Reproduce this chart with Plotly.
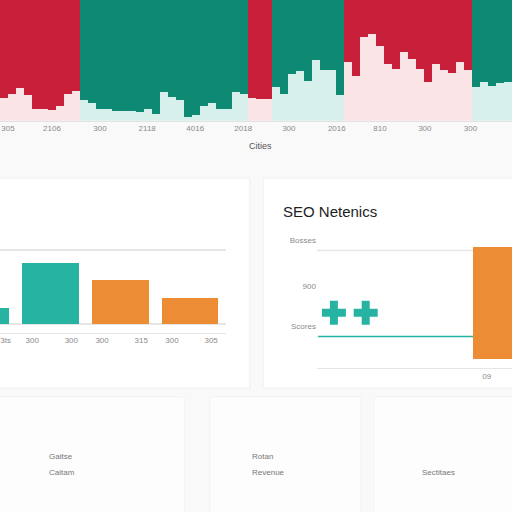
import plotly.graph_objects as go

# top strip: share of the light (lower) part per bar, in percent
top_light = [19, 22, 27, 21, 10, 10, 9, 12, 22, 25,
             17, 15, 10, 10, 8, 8, 8, 7, 10, 6,
             24, 20, 17, 3, 5, 12, 15, 10, 10, 24, 22,
             19, 18, 18,
             28, 22, 39, 41, 33, 50, 42, 42, 21,
             49, 37, 69, 72, 62, 47, 43, 57, 51, 43, 32, 47, 42, 40, 49, 42,
             28, 32, 29, 31, 32]
top_group = (["r"] * 10 + ["t"] * 21 + ["r"] * 3 + ["t"] * 9 + ["r"] * 16 + ["t"] * 5)
top_ticks = ["305", "2106", "300", "2118", "4016", "2018", "300", "2016", "810", "300", "300"]
top_tickpos = [0.5, 6, 12, 17.9, 23.9, 29.9, 35.6, 41.6, 47, 52.6, 58.3]

# middle left card
mid_x = [0, 1, 2, 3]
mid_vals = [22, 82, 59, 35]
mid_cols = ["#27b3a2", "#27b3a2", "#ec8c35", "#ec8c35"]
mid_tickpos = [0.36, 0.74, 1.3, 1.74, 2.3, 2.74, 3.3]
mid_ticks = ["3ts", "300", "300", "300", "315", "300", "305"]

# SEO card
seo_marks_x = [0.87, 2.5]
seo_marks_y = [42, 42]
seo_line_x = [0.05, 8.0]
seo_line_y = [24, 24]
seo_bar_x = [9.0]
seo_bar_top = [92]
seo_bar_base = [7]
seo_grid = 89
seo_ytext = ["Bosses", "900", "Scores"]
seo_ypos = [97, 62, 32]

dark = {"r": "#c8203b", "t": "#0e8a74"}
light = {"r": "#fbe4e6", "t": "#d8f0ec"}

fig = go.Figure()

xs = list(range(len(top_light)))
fig.add_trace(go.Bar(x=xs, y=top_light, marker_color=[light[g] for g in top_group],
                     marker_line_width=0, xaxis="x", yaxis="y"))
fig.add_trace(go.Bar(x=xs, y=[100 - v for v in top_light], marker_color=[dark[g] for g in top_group],
                     marker_line_width=0, xaxis="x", yaxis="y"))

fig.add_trace(go.Bar(x=mid_x, y=mid_vals, marker_color=mid_cols, width=0.81,
                     marker_line_width=0, xaxis="x2", yaxis="y2"))

fig.add_trace(go.Scatter(x=seo_line_x, y=seo_line_y, mode="lines",
                         line=dict(color="#27b3a2", width=1.5), xaxis="x3", yaxis="y3"))
fig.add_trace(go.Bar(x=seo_bar_x, y=[t - b for t, b in zip(seo_bar_top, seo_bar_base)],
                     base=seo_bar_base, width=2.0, marker_color="#ec8c35",
                     marker_line_width=0, xaxis="x3", yaxis="y3"))
fig.add_trace(go.Scatter(x=seo_marks_x, y=seo_marks_y, mode="markers",
                         marker=dict(symbol="cross", size=20, color="#27b3a2"),
                         xaxis="x3", yaxis="y3"))

tick_font = dict(family="Liberation Sans", size=8, color="#8a8a8a")

fig.update_layout(
    width=512, height=512, margin=dict(l=0, r=0, t=0, b=0),
    paper_bgcolor="#f9f9f9", plot_bgcolor="rgba(0,0,0,0)",
    showlegend=False, barmode="stack", bargap=0.05,
    xaxis=dict(domain=[0, 1], range=[-0.5, 63.5], tickvals=top_tickpos, ticktext=top_ticks,
               tickfont=tick_font, showgrid=False, zeroline=False, showline=True,
               linecolor="#e2e2e2", ticks="", anchor="y"),
    yaxis=dict(domain=[0.764, 1], range=[0, 100], visible=False, anchor="x"),
    xaxis2=dict(domain=[0, 0.441], range=[0.28, 3.51], tickvals=mid_tickpos, ticktext=mid_ticks,
                tickfont=tick_font, showgrid=False, zeroline=False, showline=True,
                linecolor="#e6e6e6", ticks="", anchor="y2"),
    yaxis2=dict(domain=[0.350, 0.539], range=[-12.2, 119], tickvals=[0, 100], showticklabels=False,
                showgrid=True, gridcolor="#e6e6e6", gridwidth=1.5, zeroline=False, anchor="x2"),
    xaxis3=dict(domain=[0.619, 1], range=[0, 10], tickvals=[8.7], ticktext=["09"],
                tickfont=tick_font, showgrid=False, zeroline=False, showline=True,
                linecolor="#e6e6e6", ticks="", anchor="y3"),
    yaxis3=dict(domain=[0.281, 0.539], range=[0, 100], tickvals=seo_ypos, ticktext=seo_ytext,
                tickfont=tick_font, showgrid=False, zeroline=False, ticks="", anchor="x3"),
)

fig.add_shape(type="line", xref="x3", yref="y3", x0=0, x1=10, y0=seo_grid, y1=seo_grid,
              line=dict(color="#e6e6e6", width=1.5), layer="below")

# cards
card = dict(type="rect", xref="paper", yref="paper", fillcolor="#ffffff",
            line=dict(color="#efefef", width=1), layer="below")
fig.add_shape(x0=-0.01, x1=0.488, y0=0.242, y1=0.652, **card)
fig.add_shape(x0=0.514, x1=1.01, y0=0.242, y1=0.652, **card)
faint = dict(type="rect", xref="paper", yref="paper", fillcolor="#fdfdfd",
             line=dict(color="#f3f3f3", width=1), layer="below")
fig.add_shape(x0=-0.01, x1=0.36, y0=-0.01, y1=0.225, **faint)
fig.add_shape(x0=0.41, x1=0.705, y0=-0.01, y1=0.225, **faint)
fig.add_shape(x0=0.73, x1=1.01, y0=-0.01, y1=0.225, **faint)

fig.add_annotation(text="Cities", x=0.508, y=1 - 146 / 512, xref="paper", yref="paper",
                   yanchor="middle", showarrow=False,
                   font=dict(family="Liberation Sans", size=9, color="#555"))
fig.add_annotation(text="SEO Netenics", x=0.549, y=1 - 211 / 512, xref="paper", yref="paper",
                   xanchor="left", yanchor="middle", showarrow=False,
                   font=dict(family="Liberation Sans", size=15, color="#1e1e1e"))

bottom_texts = [("Gaitse", 47, 456), ("Caitam", 47, 472), ("Rotan", 250, 456),
                ("Revenue", 250, 472), ("Sectitaes", 420, 472)]
for t, px, py in bottom_texts:
    fig.add_annotation(text=t, x=px / 512, y=1 - py / 512, xref="paper", yref="paper",
                       xanchor="left", yanchor="middle", showarrow=False,
                       font=dict(family="Liberation Sans", size=8, color="#777"))

fig.write_html("out.html", config={"displayModeBar": False},
               post_script="document.body.style.margin='0';")
